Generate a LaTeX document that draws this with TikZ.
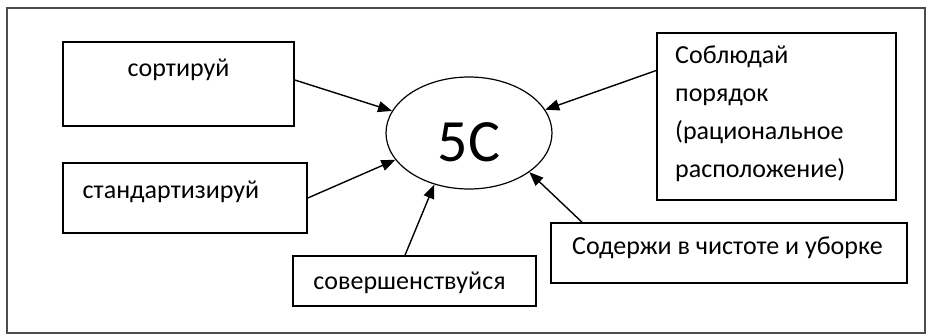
\documentclass[tikz,border=0pt]{standalone}
\usepackage{fontspec}
\setmainfont{Carlito}
\usetikzlibrary{arrows.meta,shapes.geometric}
\tikzset{
  box/.style={draw,line width=1.6pt,inner sep=0pt},
  lbl/.style={font=\fontsize{26}{38}\selectfont,inner sep=0pt},
  arr/.style={line width=1.4pt,-{Triangle[length=14pt,width=11pt]}}
}
\begin{document}
\begin{tikzpicture}[x=1pt,y=-1pt]
  \useasboundingbox (0,0) rectangle (927,335);
  \draw[black!70,line width=2.2pt] (7,8) rectangle (925,333);
  % boxes
  \node[box,minimum width=231pt,minimum height=84pt] (sort) at (178.5,84) {};
  \node[lbl] (sorttxt) at (178.5,70) {сортируй};
  \node[box,minimum width=244pt,minimum height=70pt] (std) at (185,198) {};
  \node[lbl] (stdtxt) at (171,192) {стандартизируй};
  \node[box,minimum width=243pt,minimum height=50pt] (sov) at (414.5,281) {};
  \node[lbl] (sovtxt) at (409.5,283) {совершенствуйся};
  \node[box,minimum width=239pt,minimum height=167pt] (order) at (776.5,116.5) {};
  \node[lbl,align=left,anchor=north west] (ordertxt) at (675,46)
    {Соблюдай\\порядок\\(рациональное\\расположение)};
  \node[box,minimum width=356pt,minimum height=60pt] (clean) at (729,253) {};
  \node[lbl] (cleantxt) at (727.5,248) {Содержи в чистоте и уборке};
  % centre
  \node[draw,ellipse,line width=1.2pt,inner sep=0pt,minimum width=166pt,minimum height=112pt,
        font=\fontsize{60}{60}\selectfont,text height=58pt] (five) at (469,133) {5С};
  % arrows
  \draw[arr] ([yshift=4pt]sort.east) -- (five.164);
  \draw[arr] (std.east) -- (five.200);
  \draw[arr] ([xshift=-9.5pt]sov.north) -- (five.236);
  \draw[arr] ([yshift=46pt]order.west) -- (five.17);
  \draw[arr] ([xshift=-147pt]clean.north) -- (five.327);
\end{tikzpicture}
\end{document}
